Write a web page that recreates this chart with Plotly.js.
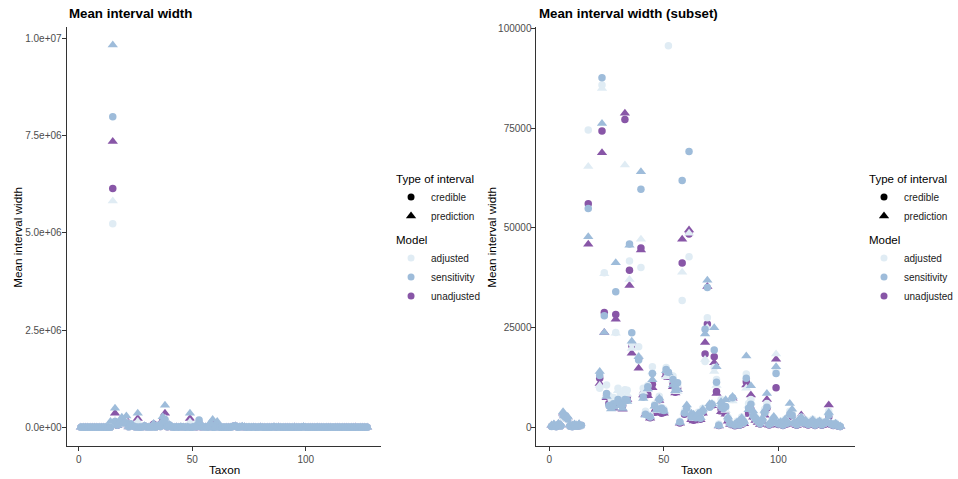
<!DOCTYPE html>
<html>
<head>
<meta charset="utf-8">
<script src="https://cdn.plot.ly/plotly-3.0.1.min.js"></script>
<style>
  html, body { margin: 0; padding: 0; background: #ffffff; }
  #chart { width: 958px; height: 479px; }
</style>
</head>
<body>
<div id="chart"></div>
<script>
// Taxon index (x axis)
const taxon = [
  1,2,3,4,5,6,7,8,9,10, 11,12,13,14,15,16,17,18,19,20,
  21,22,23,24,25,26,27,28,29,30, 31,32,33,34,35,36,37,38,39,40,
  41,42,43,44,45,46,47,48,49,50, 51,52,53,54,55,56,57,58,59,60,
  61,62,63,64,65,66,67,68,69,70, 71,72,73,74,75,76,77,78,79,80,
  81,82,83,84,85,86,87,88,89,90, 91,92,93,94,95,96,97,98,99,100,
  101,102,103,104,105,106,107,108,109,110, 111,112,113,114,115,116,117,118,119,120,
  121,122,123,124,125,126,127
];

// Mean interval widths per taxon, one list per model x interval type
const adjustedCredible = [
  300,400,250,500,350,2600,2200,1900,300,200,
  400,300,450,400,5230000,120000,74600,110000,120000,105000,
  110000,9800,85900,38800,10600,8000,7000,7500,23800,9800,
  8400,7600,9400,9300,41700,21000,102000,130000,20200,40100,
  9800,4000,10500,3000,15200,5800,4500,7800,5000,4600,
  15000,95700,110000,12900,9500,10500,1500,31800,4000,4500,
  42800,3000,2500,3200,3800,2700,4800,16500,27500,5500,
  6000,15000,12000,800,7000,5500,4800,2500,1200,7000,
  800,1500,900,2600,1600,13400,6000,7000,3500,2500,
  1800,1200,2200,4500,6000,900,1500,2400,14500,1000,
  1500,700,2000,1200,4000,3500,1300,800,2000,2500,
  1500,1800,900,1400,2000,700,1300,1700,800,1300,
  1500,4000,1000,700,1100,500,300
];
const adjustedPrediction = [
  500,700,450,900,600,3300,2800,2400,600,500,
  700,550,800,105000,5820000,180000,65400,130000,180000,120000,
  150000,10500,85000,38500,8000,150000,6200,6500,23600,9200,
  7800,7300,65800,8200,37100,19800,140000,230000,17900,47200,
  8800,3700,9500,2800,13900,5300,4200,7500,140000,4300,
  12700,14000,104000,11800,9000,8900,1400,38900,3800,4200,
  48700,2800,2200,2900,3300,2500,4300,17000,25000,5200,
  5800,14000,10500,600,6000,4800,4200,2300,1000,6600,
  600,1200,700,2200,1400,9800,5500,6300,3100,2300,
  1600,1100,2000,4000,5500,800,1300,2200,18400,900,
  1300,600,1800,1100,3600,3200,1100,700,1800,2300,
  1300,1600,800,1200,1800,600,1100,1500,700,1100,
  1300,3500,900,600,900,400,250
];
const sensitivityCredible = [
  200,300,150,400,300,3000,2500,2100,250,150,
  350,250,350,500,7980000,150000,54900,105000,130000,110000,
  120000,13000,87700,28000,8500,5500,5000,5900,34000,7000,
  6000,5600,7000,6800,46000,23700,125000,200000,16900,59700,
  7600,3300,10200,2600,13500,5500,4600,7000,4800,4200,
  14500,13800,190000,12000,9800,11200,1300,61900,3600,4800,
  69200,2600,2800,2400,3000,2300,4000,24600,35100,5000,
  5700,19400,11300,500,5200,4700,5200,2100,900,7400,
  500,1100,600,2000,1200,12300,4800,5800,2900,2100,
  1500,900,1700,3600,5000,700,1100,2000,13500,800,
  1200,500,1600,1000,3300,3000,1000,600,1600,2000,
  1100,1300,700,1100,1500,500,1000,1300,600,1000,
  1200,3000,800,500,800,350,200
];
const sensitivityPrediction = [
  600,800,500,1000,700,3900,3100,2700,700,550,
  800,600,900,150000,9830000,490000,47800,150000,260000,140000,
  290000,14000,76200,23800,7700,360000,4600,5000,41300,6600,
  5400,4700,100500,6500,45700,21600,270000,570000,17700,64100,
  7200,3000,9600,2700,11900,5300,4400,7300,360000,4000,
  14200,13600,150000,10600,9200,9500,1200,120000,200000,5600,
  150000,3500,3300,2700,3500,2400,4500,23400,36900,5900,
  5900,25000,15200,400,6400,5100,6900,2600,1100,7700,
  700,1300,800,2400,1500,17900,4400,10400,4100,2700,
  1900,1300,2300,4200,8500,900,1600,2700,15200,1100,
  1400,800,2100,1300,6000,4500,1400,900,2000,2600,
  1500,1700,1000,1300,1900,800,1200,1600,900,1200,
  1600,3700,1000,700,1000,500,300
];
const unadjustedCredible = [
  250,350,200,450,300,2700,2300,2000,300,200,
  350,250,400,450,6140000,130000,56100,110000,125000,100500,
  115000,12300,74300,28800,8000,6000,5600,6600,28300,6300,
  7000,5500,77200,7500,39400,20500,150000,160000,17300,45000,
  8400,3500,8200,2400,10800,3800,4000,6900,3500,3700,
  13500,12800,120000,10900,8800,9800,1100,41200,3300,3500,
  48500,2200,1800,2100,2500,2000,3700,18400,25900,5300,
  5500,17700,9000,450,4500,4100,3600,1800,800,7100,
  400,900,500,1700,1100,11400,3600,4500,2600,1900,
  1400,800,1500,3500,4800,600,1000,1800,9900,700,
  1000,450,1400,900,3100,2600,900,500,1500,1900,
  1000,1200,600,1000,1400,450,900,1200,500,900,
  1400,2600,700,450,700,300,200
];
const unadjustedPrediction = [
  450,650,400,850,550,3500,2900,2500,550,450,
  650,500,750,110000,7350000,360000,45900,120000,150000,115000,
  190000,11000,68900,23800,7400,230000,5300,4800,27100,5800,
  6400,4500,78800,7000,35600,18600,190000,360000,14800,44500,
  8100,3200,7900,2300,9900,3500,3600,6700,230000,3500,
  13100,12500,110000,10200,8600,9400,1000,47200,110000,3200,
  49500,1900,1600,2000,2300,1900,3500,21300,35300,5600,
  5400,16200,8500,350,3900,3800,3300,1500,700,7300,
  350,800,450,1500,900,10600,3200,8100,2500,1700,
  1200,700,1300,3000,7000,500,900,1500,17100,600,
  900,400,1200,800,2800,2300,800,450,1400,3100,
  900,1100,500,900,1300,400,800,1100,450,800,
  1200,5600,600,400,600,250,150
];

// Axis ticks
const leftYTicks = [0, 2500000, 5000000, 7500000, 10000000];
const leftYLabels = ['0.0e+00', '2.5e+06', '5.0e+06', '7.5e+06', '1.0e+07'];
const rightYTicks = [0, 25000, 50000, 75000, 100000];
const rightYLabels = ['0', '25000', '50000', '75000', '100000'];
const xTicks = [0, 50, 100];

// Legend categories
const modelNames = ['adjusted', 'sensitivity', 'unadjusted'];
const intervalTypes = ['credible', 'prediction'];

// The subset panel keeps only widths below this value
const SUBSET_LIMIT = 100000;

const modelColor = { adjusted: '#E0ECF4', sensitivity: '#9EBCDA', unadjusted: '#8856A7' };
const typeSymbol = { credible: 'circle', prediction: 'triangle-up' };
const typeSize = { credible: 7.5, prediction: 9 };

// Drawing order: unadjusted first, sensitivity on top
const series = [
  { model: 'unadjusted', type: 'credible', values: unadjustedCredible },
  { model: 'unadjusted', type: 'prediction', values: unadjustedPrediction },
  { model: 'adjusted', type: 'credible', values: adjustedCredible },
  { model: 'adjusted', type: 'prediction', values: adjustedPrediction },
  { model: 'sensitivity', type: 'credible', values: sensitivityCredible },
  { model: 'sensitivity', type: 'prediction', values: sensitivityPrediction }
];

const W = 958, H = 479;
const px = v => v / W;
const py = v => 1 - v / H;

const FONT = 'Liberation Sans, Arial, Helvetica, sans-serif';

const traces = [];
[1, 2].forEach(panel => {
  const subset = panel === 2;
  series.forEach(s => {
    const x = [], y = [];
    s.values.forEach((v, i) => {
      if (!subset || v < SUBSET_LIMIT) { x.push(taxon[i]); y.push(v); }
    });
    traces.push({
      type: 'scatter', mode: 'markers', x, y,
      xaxis: panel === 1 ? 'x' : 'x2', yaxis: panel === 1 ? 'y' : 'y2',
      marker: { symbol: typeSymbol[s.type], size: typeSize[s.type], color: modelColor[s.model], line: { width: 0 } },
      showlegend: false, hoverinfo: 'skip'
    });
  });
  // legend keys
  const legendId = panel === 1 ? 'legend' : 'legend2';
  intervalTypes.forEach(t => {
    traces.push({
      type: 'scatter', mode: 'markers', x: [null], y: [null],
      xaxis: panel === 1 ? 'x' : 'x2', yaxis: panel === 1 ? 'y' : 'y2',
      name: t, legend: legendId, legendgroup: 'type',
      legendgrouptitle: { text: 'Type of interval', font: { size: 11.5, color: '#000' } },
      marker: { symbol: typeSymbol[t], size: t === 'credible' ? 7 : 9, color: '#000' }
    });
  });
  modelNames.forEach(m => {
    traces.push({
      type: 'scatter', mode: 'markers', x: [null], y: [null],
      xaxis: panel === 1 ? 'x' : 'x2', yaxis: panel === 1 ? 'y' : 'y2',
      name: m, legend: legendId, legendgroup: 'model',
      legendgrouptitle: { text: 'Model', font: { size: 11.5, color: '#000' } },
      marker: { symbol: 'circle', size: 7, color: modelColor[m] }
    });
  });
});

const axisCommon = {
  showgrid: false, zeroline: false, showline: true, linecolor: '#333', linewidth: 1,
  ticks: 'outside', ticklen: 4, tickcolor: '#333', tickwidth: 1,
  tickfont: { family: FONT, size: 10, color: '#4D4D4D' }
};

const yDomain = [py(446), py(27)];

const legendCommon = {
  bgcolor: 'rgba(0,0,0,0)', font: { family: FONT, size: 10, color: '#1a1a1a' },
  tracegroupgap: 4, yanchor: 'middle', xanchor: 'left', y: py(237), traceorder: 'grouped'
};

const layout = {
  width: W, height: H,
  margin: { l: 0, r: 0, t: 0, b: 0 },
  paper_bgcolor: '#fff', plot_bgcolor: '#fff',
  font: { family: FONT },
  xaxis: Object.assign({}, axisCommon, { domain: [px(67.5), px(386)], range: [-5.3, 133.2], tickvals: xTicks, anchor: 'y' }),
  yaxis: Object.assign({}, axisCommon, { domain: yDomain, range: [-480000, 10290000], tickvals: leftYTicks, ticktext: leftYLabels, anchor: 'x', ticklabelstandoff: -2 }),
  xaxis2: Object.assign({}, axisCommon, { domain: [px(543.3), px(865.7)], range: [-5.6, 133.4], tickvals: xTicks, anchor: 'y2' }),
  yaxis2: Object.assign({}, axisCommon, { domain: yDomain, range: [-4690, 100420], tickvals: rightYTicks, ticktext: rightYLabels, anchor: 'x2', ticklabelstandoff: -2 }),
  legend: Object.assign({}, legendCommon, { x: px(396) }),
  legend2: Object.assign({}, legendCommon, { x: px(875) }),
  annotations: [
    { text: '<b>Mean interval width</b>', x: px(68), y: py(13), xref: 'paper', yref: 'paper', xanchor: 'left', yanchor: 'middle', showarrow: false, font: { family: FONT, size: 13.3, color: '#000' } },
    { text: '<b>Mean interval width (subset)</b>', x: px(544), y: py(13), xref: 'paper', yref: 'paper', xanchor: 'left', yanchor: 'middle', showarrow: false, font: { family: FONT, size: 13.3, color: '#000' } },
    { text: 'Mean interval width', x: px(17), y: py(237), xref: 'paper', yref: 'paper', xanchor: 'center', yanchor: 'middle', textangle: -90, showarrow: false, font: { family: FONT, size: 11.7, color: '#000' } },
    { text: 'Mean interval width', x: px(497), y: py(237), xref: 'paper', yref: 'paper', xanchor: 'center', yanchor: 'middle', textangle: -90, showarrow: false, font: { family: FONT, size: 11.7, color: '#000' } },
    { text: 'Taxon', x: px(227), y: py(469), xref: 'paper', yref: 'paper', xanchor: 'center', yanchor: 'middle', showarrow: false, font: { family: FONT, size: 11.7, color: '#000' } },
    { text: 'Taxon', x: px(705), y: py(469), xref: 'paper', yref: 'paper', xanchor: 'center', yanchor: 'middle', showarrow: false, font: { family: FONT, size: 11.7, color: '#000' } }
  ]
};

Plotly.newPlot('chart', traces, layout, { staticPlot: true, displayModeBar: false });
</script>
</body>
</html>
